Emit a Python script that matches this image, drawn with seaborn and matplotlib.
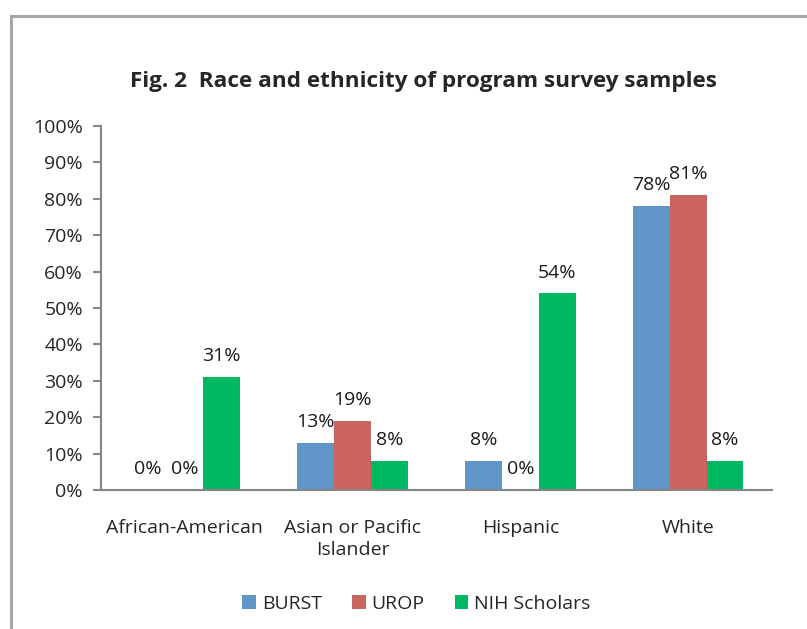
import numpy as np
import matplotlib.pyplot as plt
import pandas as pd
import seaborn as sns
from matplotlib.patches import Rectangle

categories = ['African-American', 'Asian or Pacific\nIslander', 'Hispanic', 'White']
programs = ['BURST', 'UROP', 'NIH Scholars']
burst = [0, 13, 8, 78]
urop = [0, 19, 0, 81]
nih = [31, 8, 54, 8]
colors = ['#6195C8', '#CB6460', '#00B862']

sns.set_style('white')
plt.rcParams['font.family'] = ['Open Sans', 'DejaVu Sans']
fs = 14

df = pd.DataFrame({
    'category': categories * 3,
    'program': [p for p in programs for _ in categories],
    'value': burst + urop + nih,
})

fig = plt.figure(figsize=(8.07, 6.29), dpi=100)
ax = fig.add_axes([101 / 807, 1 - 490 / 629, (772 - 101) / 807, (490 - 126) / 629])

sns.barplot(data=df, x='category', y='value', hue='program', order=categories,
            hue_order=programs, palette=colors, width=0.66, ax=ax, saturation=1,
            edgecolor='none', errorbar=None)

for cont in ax.containers:
    ax.bar_label(cont, fmt='%d%%', padding=8.5, fontsize=fs, color='#1a1a1a')

ax.set_ylim(0, 100)
ax.set_xlim(-0.5, 3.5)
ax.set_yticks(np.arange(0, 101, 10))
ax.set_yticklabels([f'{v}%' for v in range(0, 101, 10)], fontsize=fs)
ax.set_xticks(range(4))
ax.set_xticklabels(categories, fontsize=fs, linespacing=1.3)
ax.set_xticks(np.arange(-0.5, 4, 1), minor=True)
ax.tick_params(axis='x', which='major', length=0, pad=21)
ax.tick_params(axis='x', which='minor', length=6, color='#868686', width=1.5, direction='out')
ax.tick_params(axis='y', length=6, color='#868686', width=1.5, direction='out', pad=7, left=True)
ax.set_xlabel('')
ax.set_ylabel('')
for s in ['top', 'right']:
    ax.spines[s].set_visible(False)
for s in ['left', 'bottom']:
    ax.spines[s].set_color('#868686')
    ax.spines[s].set_linewidth(1.5)

ax.legend(loc='upper center', bbox_to_anchor=(0.47, -0.24), ncol=3, frameon=False,
          fontsize=fs, handlelength=0.7, handleheight=0.7, columnspacing=1.55,
          handletextpad=0.3)

fig.suptitle('Fig. 2  Race and ethnicity of program survey samples', fontsize=16.2,
             fontweight='bold', x=0.525, y=1 - 81 / 629, va='center')

fig.patches.append(Rectangle((11 / 807, -0.1), 1.2, 1.1 - 16 / 629, transform=fig.transFigure,
                             fill=False, edgecolor='#A6A6A6', linewidth=2.2))

fig.savefig('out.png', dpi=100)
